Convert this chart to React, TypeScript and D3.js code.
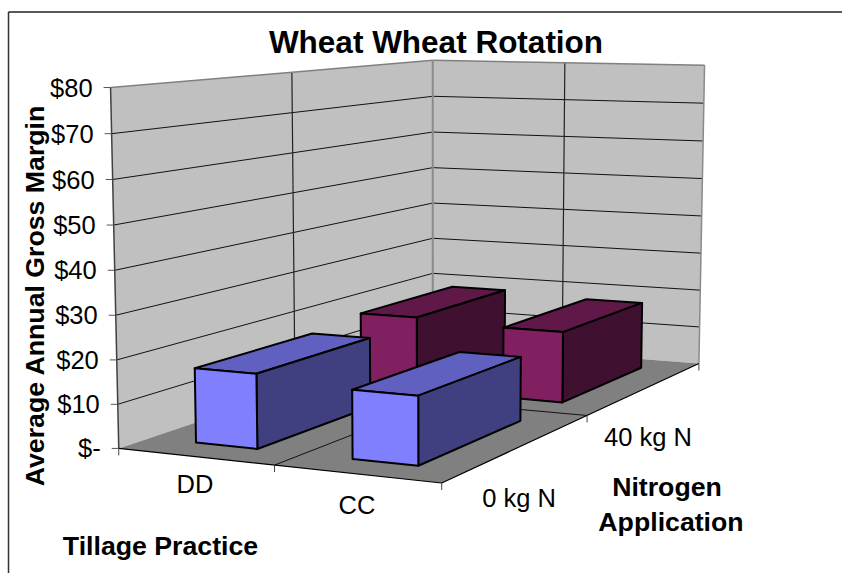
import { useEffect, useRef } from 'react';
import * as d3 from 'd3';

const categories = ['DD', 'CC'];
const seriesNames = ['0 kg N', '40 kg N'];
const values0 = [17, 15.3];
const values40 = [18.5, 17.5];
const yTicks = [0, 10, 20, 30, 40, 50, 60, 70, 80];
const yTickLabels = ['$-', '$10', '$20', '$30', '$40', '$50', '$60', '$70', '$80'];
const seriesFront = ['#8080ff', '#802060'];
const seriesTop = ['#6060c0', '#601848'];
const seriesSide = ['#404080', '#401030'];

// picture corners of the plot box: [u, v, w] -> [x, y]
const anchors: [number[], number[]][] = [
  [[0, 0, 0], [119, 448]],
  [[1, 0, 0], [441, 484]],
  [[1, 1, 0], [699, 362]],
  [[0, 1, 0], [433, 344]],
  [[0, 0, 1], [111, 87]],
  [[0, 1, 1], [432, 60]],
  [[1, 1, 1], [705, 66]],
];

// least squares fit of the 3x4 projection matrix (last entry fixed at 1)
function fitProjection() {
  const rows: number[][] = [];
  const rhs: number[] = [];
  anchors.forEach(([[u, v, w], [x, y]]) => {
    rows.push([u, v, w, 1, 0, 0, 0, 0, -x * u, -x * v, -x * w]);
    rhs.push(x);
    rows.push([0, 0, 0, 0, u, v, w, 1, -y * u, -y * v, -y * w]);
    rhs.push(y);
  });
  const n = 11;
  const m = d3.range(n).map(i => [
    ...d3.range(n).map(j => d3.sum(rows, r => r[i] * r[j])),
    d3.sum(rows, (r, k) => r[i] * rhs[k]),
  ]);
  for (let i = 0; i < n; i++) {
    let p = i;
    for (let k = i + 1; k < n; k++) if (Math.abs(m[k][i]) > Math.abs(m[p][i])) p = k;
    [m[i], m[p]] = [m[p], m[i]];
    for (let k = 0; k < n; k++) {
      if (k === i) continue;
      const f = m[k][i] / m[i][i];
      for (let j = i; j <= n; j++) m[k][j] -= f * m[i][j];
    }
  }
  return m.map((r, i) => r[n] / r[i]);
}

const App = () => {
  const ref = useRef<SVGSVGElement>(null);

  useEffect(() => {
    const svg = d3.select(ref.current);
    svg.selectAll('*').remove();

    const h = fitProjection();
    const project = (u: number, v: number, w: number): [number, number] => {
      const d = h[8] * u + h[9] * v + h[10] * w + 1;
      return [
        (h[0] * u + h[1] * v + h[2] * w + h[3]) / d,
        (h[4] * u + h[5] * v + h[6] * w + h[7]) / d,
      ];
    };

    const y = d3.scaleLinear().domain([0, 80]).range([0, 1]);
    const xBand = d3.scaleBand().domain(categories).range([0, 1]).paddingInner(0.6).paddingOuter(0.3).align(0.51);
    const zBand = d3.scaleBand().domain(seriesNames).range([0, 1]).paddingInner(0.32).paddingOuter(0.16);
    const line = d3.line();

    const poly = (pts: [number, number][], fill: string, stroke = '#000', sw = 2) =>
      svg.append('path')
        .attr('d', line(pts) + 'Z')
        .attr('fill', fill)
        .attr('stroke', stroke)
        .attr('stroke-width', sw)
        .attr('stroke-linejoin', 'round');
    const seg = (a: [number, number], b: [number, number], stroke: string, sw = 1) =>
      svg.append('line')
        .attr('x1', a[0]).attr('y1', a[1])
        .attr('x2', b[0]).attr('y2', b[1])
        .attr('stroke', stroke)
        .attr('stroke-width', sw);
    const label = (x: number, yy: number, s: string, size: number, bold = false, anchor = 'middle') =>
      svg.append('text')
        .attr('x', x).attr('y', yy)
        .attr('text-anchor', anchor)
        .attr('font-family', '"Liberation Sans", Arial, sans-serif')
        .attr('font-size', size)
        .attr('font-weight', bold ? 'bold' : 'normal')
        .attr('fill', '#000')
        .text(s);

    // outer chart frame, only left and top are on the page
    seg([8.5, 12], [8.5, 573], '#333', 1.5);
    seg([8.5, 12], [842, 12], '#222', 1.5);

    // walls and floor
    poly([project(0, 0, 0), project(0, 1, 0), project(0, 1, 1), project(0, 0, 1)], '#c0c0c0', 'none');
    poly([project(0, 1, 0), project(1, 1, 0), project(1, 1, 1), project(0, 1, 1)], '#c0c0c0', 'none');
    poly([project(0, 0, 0), project(1, 0, 0), project(1, 1, 0), project(0, 1, 0)], '#808080', 'none');

    yTicks.forEach(t => {
      const w = y(t);
      if (t > 0 && t < 80) {
        seg(project(0, 0, w), project(0, 1, w), '#111');
        seg(project(0, 1, w), project(1, 1, w), '#111');
      }
    });
    seg(project(0.5, 1, 0), project(0.5, 1, 1), '#222', 1.2);
    seg(project(0, 0.5, 0), project(0, 0.5, 1), '#222', 1.2);
    seg(project(0.5, 0, 0), project(0.5, 1, 0), '#111');
    seg(project(0, 0.5, 0), project(1, 0.5, 0), '#111');

    // wall edges
    seg(project(0, 0, 1), project(0, 1, 1), '#808080', 1.5);
    seg(project(0, 1, 1), project(1, 1, 1), '#808080', 1.5);
    seg(project(0, 1, 0), project(0, 1, 1), '#8a8a8a', 2);
    seg(project(1, 1, 0), project(1, 1, 1), '#8a8a8a', 1.5);
    seg(project(0, 0, 0), project(0, 0, 1), '#404040', 1.5);

    // floor front edges and ticks
    seg(project(0, 0, 0), project(1, 0, 0), '#000', 1.2);
    seg(project(1, 0, 0), project(1, 1, 0), '#000', 1.2);
    [[0, 0], [0.5, 0], [1, 0], [1, 0.5], [1, 1]].forEach(([u, v]) => {
      const p = project(u, v, 0);
      seg(p, [p[0], p[1] + 7], '#444', 1);
    });

    // y axis ticks and labels
    yTicks.forEach((t, i) => {
      const p = project(0, 0, y(t));
      seg([p[0] - 7, p[1]], p, '#555', 1);
      label(p[0] - 18, p[1] + 9, yTickLabels[i], 25.5, false, 'end');
    });

    // bars, back row first
    [values40, values0].forEach((vals, r) => {
      const s = 1 - r;
      const v0 = zBand(seriesNames[s])!;
      const v1 = v0 + zBand.bandwidth();
      vals.forEach((val, i) => {
        const u0 = xBand(categories[i])!;
        const u1 = u0 + xBand.bandwidth();
        const w = y(val);
        poly([project(u0, v0, w), project(u1, v0, w), project(u1, v1, w), project(u0, v1, w)], seriesTop[s]);
        poly([project(u1, v0, 0), project(u1, v1, 0), project(u1, v1, w), project(u1, v0, w)], seriesSide[s]);
        poly([project(u0, v0, 0), project(u1, v0, 0), project(u1, v0, w), project(u0, v0, w)], seriesFront[s]);
      });
    });

    // category labels
    label(195, 493, categories[0], 25.5);
    label(357, 514, categories[1], 25.5);
    label(519, 507, seriesNames[0], 25.5);
    label(648, 446, seriesNames[1], 25.5);

    // titles
    label(436, 53, 'Wheat Wheat Rotation', 31.5, true);
    label(667, 496, 'Nitrogen', 26.7, true);
    label(671, 531, 'Application', 26.7, true);
    label(160.5, 555, 'Tillage Practice', 26.7, true);
    label(0, 0, 'Average Annual Gross Margin', 26.7, true)
      .attr('transform', 'translate(44,296) rotate(-90)');
  }, []);

  return (
    <svg ref={ref} width={842} height={573} style={{ position: 'absolute', left: 0, top: 0 }} />
  );
};

export default App;
